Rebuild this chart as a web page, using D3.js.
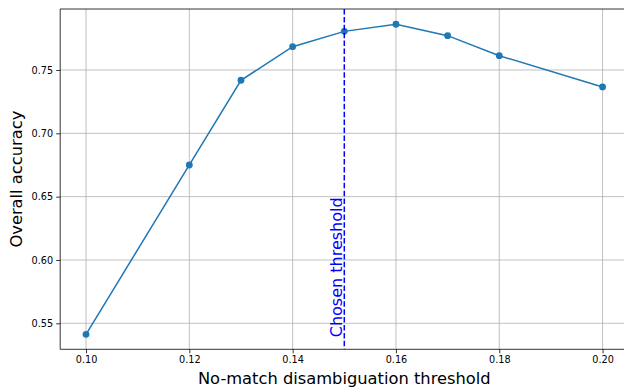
<!DOCTYPE html>
<html>
<head>
<meta charset="utf-8">
<script src="https://cdn.jsdelivr.net/npm/d3@7"></script>
<style>
  html, body { margin: 0; padding: 0; background: #fff; }
  svg { display: block; font-family: "DejaVu Sans", sans-serif; }
</style>
</head>
<body>
<div id="chart"></div>
<script>
// accuracy vs threshold, with the chosen threshold marked

const thresholds = [0.10, 0.12, 0.13, 0.14, 0.15, 0.16, 0.17, 0.18, 0.20];
const accuracy   = [0.5413, 0.6750, 0.7419, 0.7684, 0.7805, 0.7861, 0.7771, 0.7613, 0.7366];
const xTicks = [0.10, 0.12, 0.14, 0.16, 0.18, 0.20];
const yTicks = [0.55, 0.60, 0.65, 0.70, 0.75];
const chosen = 0.15;

const W = 624, H = 387;
const LINE = "#1f77b4";

const svg = d3.select("#chart").append("svg")
  .attr("width", W)
  .attr("height", H);

// axes box (right edge falls outside the picture, as in the original)
const x = d3.scaleLinear().domain([0.095, 0.205]).range([60.2, 628.4]);
const y = d3.scaleLinear().domain([0.52947, 0.79816]).range([349.3, 9]);

const [x0, x1] = x.range();
const [yb, yt] = y.range();

// grid
const grid = svg.append("g").attr("stroke", "#b0b0b0").attr("stroke-width", 0.8);
grid.selectAll("line.gx").data(xTicks).enter().append("line")
  .attr("x1", d => x(d)).attr("x2", d => x(d))
  .attr("y1", yt).attr("y2", yb);
grid.selectAll("line.gy").data(yTicks).enter().append("line")
  .attr("x1", x0).attr("x2", x1)
  .attr("y1", d => y(d)).attr("y2", d => y(d));

// axes
const xAxis = d3.axisBottom(x).tickValues(xTicks).tickFormat(d3.format(".2f"))
  .tickSizeInner(4).tickSizeOuter(0).tickPadding(3);
const yAxis = d3.axisLeft(y).tickValues(yTicks).tickFormat(d3.format(".2f"))
  .tickSizeInner(4).tickSizeOuter(0).tickPadding(3);

const gx = svg.append("g").attr("transform", `translate(0,${yb})`).call(xAxis);
const gy = svg.append("g").attr("transform", `translate(${x0},0)`).call(yAxis);
[gx, gy].forEach(g => {
  g.select(".domain").remove();
  g.selectAll(".tick line").attr("stroke", "#000").attr("stroke-width", 0.8);
  g.selectAll(".tick text").attr("fill", "#000")
    .style("font-family", "DejaVu Sans").style("font-size", "9.7px");
});

// spines
svg.append("line").attr("x1", x0).attr("x2", x0).attr("y1", yt).attr("y2", yb)
  .attr("stroke", "#000").attr("stroke-width", 0.8);
svg.append("line").attr("x1", x0).attr("x2", x1).attr("y1", yb).attr("y2", yb)
  .attr("stroke", "#000").attr("stroke-width", 0.8);
svg.append("line").attr("x1", x0).attr("x2", x1).attr("y1", yt).attr("y2", yt)
  .attr("stroke", "#000").attr("stroke-width", 0.8);

// series
const pts = thresholds.map((t, i) => ({ t, a: accuracy[i] }));
const line = d3.line().x(d => x(d.t)).y(d => y(d.a));

svg.append("path").datum(pts)
  .attr("d", line)
  .attr("fill", "none")
  .attr("stroke", LINE)
  .attr("stroke-width", 1.5);

svg.selectAll("circle.pt").data(pts).enter().append("circle")
  .attr("class", "pt")
  .attr("cx", d => x(d.t)).attr("cy", d => y(d.a))
  .attr("r", 3.4)
  .attr("fill", LINE);

// chosen threshold
svg.append("line")
  .attr("x1", x(chosen)).attr("x2", x(chosen))
  .attr("y1", yt).attr("y2", yb)
  .attr("stroke", "#0000ff")
  .attr("stroke-width", 1.5)
  .attr("stroke-dasharray", "5.5,2.4");

svg.append("text")
  .attr("transform", `translate(${x(chosen) - 2.5},${y(0.539)}) rotate(-90)`)
  .attr("fill", "#0000ff")
  .style("font-size", "16px")
  .text("Chosen threshold");

// axis labels
svg.append("text")
  .attr("x", (x0 + x1) / 2).attr("y", 384)
  .attr("text-anchor", "middle")
  .style("font-size", "16.3px")
  .text("No-match disambiguation threshold");

svg.append("text")
  .attr("transform", `translate(22,${(yt + yb) / 2}) rotate(-90)`)
  .attr("text-anchor", "middle")
  .style("font-size", "16.3px")
  .text("Overall accuracy");
</script>
</body>
</html>
